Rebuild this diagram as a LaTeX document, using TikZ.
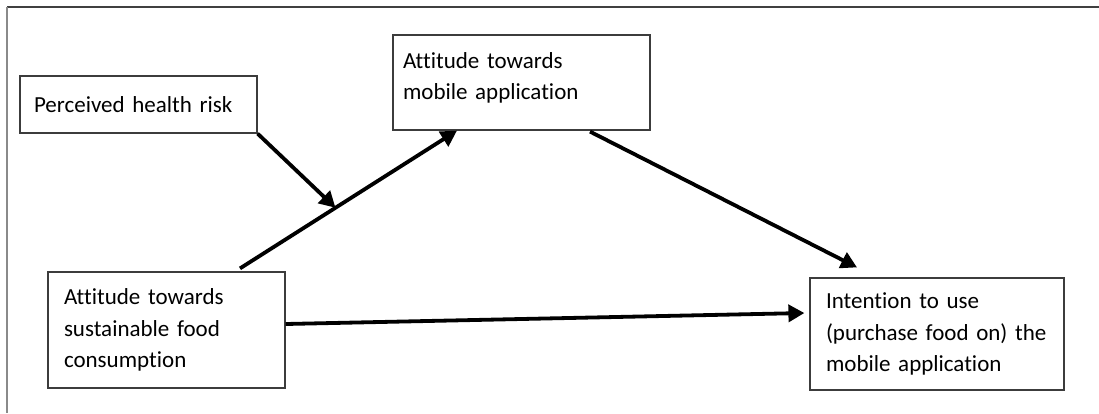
\documentclass[tikz,border=0pt]{standalone}
\usepackage{fontspec}
\setmainfont{Carlito}[Ligatures=NoCommon]
\usetikzlibrary{arrows.meta,calc}
\definecolor{boxgray}{HTML}{3C3C3C}
\definecolor{topgray}{HTML}{404040}
\definecolor{sidegray}{HTML}{8A8A8A}

\begin{document}
\begin{tikzpicture}[x=1pt,y=-1pt]
    \tikzset{box/.style  = {draw=boxgray, line width=1.2pt, align=left,
        inner xsep=16pt, inner ysep=0pt,
        font=\fontsize{23}{31.5}\selectfont},
        link/.style = {line width=3.8pt,
        -{Triangle[length=16pt,width=17pt]}}}
    \useasboundingbox (0,0) rectangle (1099,413);

    % Draw the frame.
    \draw[topgray, line width=1.5pt] (7,7) -- (1099,7);
    \draw[sidegray, line width=1.8pt] (7,7) -- (7,413);

    % Draw the boxes.
    \node[box, text width=209pt, inner xsep=14pt, minimum height=57pt] (risk) at (138.5,104.5)
        {Perceived health risk};
    \node[box, text width=237pt, inner xsep=10pt, minimum height=95pt] (mobile) at (521.5,82.5)
        {Attitude towards\\mobile application\rule[-13pt]{0pt}{13pt}};
    \node[box, text width=205pt, minimum height=116pt] (food) at (166.5,330)
        {Attitude towards\\sustainable food\\consumption};
    \node[box, text width=222pt, minimum height=112pt] (intent) at (937,334)
        {Intention to use\\(purchase food on) the\\mobile application};

    % Draw the paths.
    \draw[link] ($(food.north)+(73.5,-3)$) -- coordinate[pos=0.44] (meet)
        ($(mobile.south)+(-64.5,0)$);
    \draw[link] (risk.south east) -- (meet);
    \draw[link] ($(mobile.south)+(68.5,1)$) -- ($(intent.north)+(-80,-10)$);
    \draw[link] ($(food.east)+(0,-6)$) -- ($(intent.west)+(-5,-21)$);
\end{tikzpicture}
\end{document}
